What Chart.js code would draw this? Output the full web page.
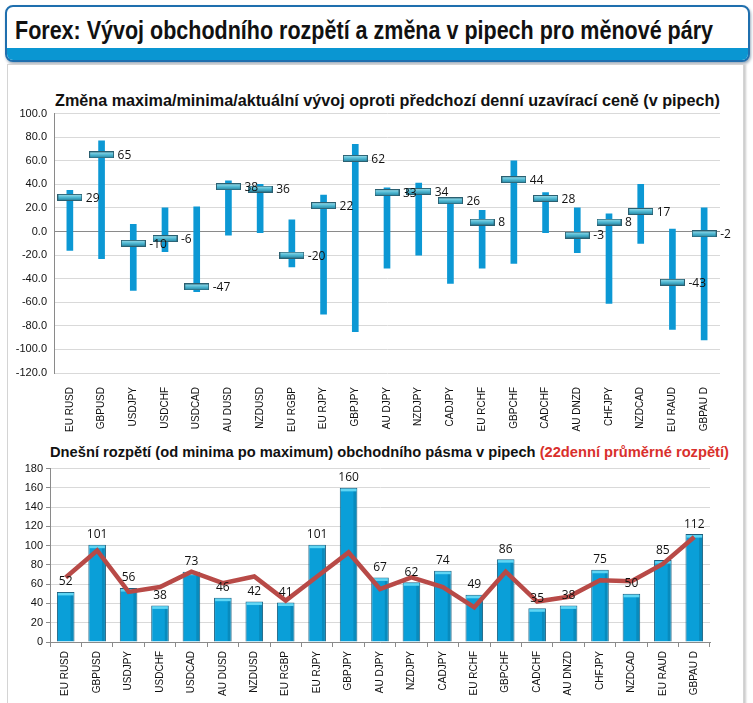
<!DOCTYPE html>
<html>
<head>
<meta charset="utf-8">
<script src="https://cdn.jsdelivr.net/npm/chart.js@4.4.0/dist/chart.umd.min.js"></script>
<style>
  body { margin: 0; background: #fff; width: 753px; height: 703px; overflow: hidden; position: relative; font-family: "Liberation Sans", Arial, sans-serif; }
  #hlavicka { position: absolute; left: 5px; top: 5px; width: 741px; height: 53px; border: 2px solid #1f6fae; border-radius: 8px; overflow: hidden; background: #fff; box-shadow: 1px 2px 3px #9ab; }
  #hlavicka .text { position: absolute; left: 8px; top: 8px; font-weight: bold; font-size: 26px; color: #111; white-space: nowrap; transform-origin: 0 0; }
  #hlavicka .pas { position: absolute; left: 0; right: 0; bottom: 0; height: 12px; background: #0a96d2; }
  #panel { position: absolute; left: 7px; top: 64px; width: 735px; height: 650px; border: 1px solid #d4d4d4; box-shadow: 2px 0 2px #ccc; background: #fff; }
  .nadpis { position: absolute; font-weight: bold; color: #111; white-space: nowrap; }
  .cerv { color: #d9302c; }
  canvas { position: absolute; }
</style>
</head>
<body>
<div id="hlavicka"><div class="text" id="hlText">Forex: Vývoj obchodního rozpětí a změna v pipech pro měnové páry</div><div class="pas"></div></div>
<div id="panel"></div>
<div class="nadpis" style="left:55px; top:91px; font-size:16.2px;">Změna maxima/minima/aktuální vývoj oproti předchozí denní uzavírací ceně (v pipech)</div>
<div class="nadpis" style="left:50px; top:444px; font-size:14.7px;">Dnešní rozpětí (od minima po maximum) obchodního pásma v pipech <span class="cerv">(22denní průměrné rozpětí)</span></div>
<div style="position:absolute; left:8px; top:100px; width:734px; height:336px;"><canvas id="grafHore"></canvas></div>
<div style="position:absolute; left:8px; top:459px; width:734px; height:239px;"><canvas id="grafDole"></canvas></div>
<script>
// menove pary
var pary = ["EURUSD", "GBPUSD", "USDJPY", "USDCHF", "USDCAD", "AUDUSD", "NZDUSD", "EURGBP", "EURJPY", "GBPJPY", "AUDJPY",
  "NZDJPY", "CADJPY", "EURCHF", "GBPCHF", "CADCHF", "AUDNZD", "CHFJPY", "NZDCAD", "EURAUD", "GBPAUD"];
// popisky osy x (jak jsou v obrazku)
var popisky = ["EU RUSD", "GBPUSD", "USDJPY", "USDCHF", "USDCAD", "AU DUSD", "NZDUSD", "EU RGBP", "EU RJPY", "GBPJPY", "AU DJPY",
  "NZDJPY", "CADJPY", "EU RCHF", "GBPCHF", "CADCHF", "AU DNZD", "CHFJPY", "NZDCAD", "EU RAUD", "GBPAU D"];

// horni graf - maximum, minimum a aktualni zmena (pipy)
var maxima = [35, 77, 6, 20, 21, 43, 40, 10, 31, 74, 37, 41, 29, 18, 60, 33, 20, 15, 40, 2, 20];
var minima = [-16, -23, -50, -17, -51, -3, -1, -30, -70, -85, -31, -20, -44, -31, -27, -1, -18, -61, -10, -83, -92];
var aktualni = [29, 65, -10, -6, -47, 38, 36, -20, 22, 62, 33, 34, 26, 8, 44, 28, -3, 8, 17, -43, -2];
var osaHoreTicks = [-120, -100, -80, -60, -40, -20, 0, 20, 40, 60, 80, 100];

// dolni graf - dnesni rozpeti a 22denni prumer
var rozpeti = [52, 101, 56, 38, 73, 46, 42, 41, 101, 160, 67, 62, 74, 49, 86, 35, 38, 75, 50, 85, 112];
var prumer = [67, 95, 52, 57, 73, 61, 68, 43, 68, 93, 55, 67, 57, 36, 73, 42, 47, 64, 63, 81, 109];
var osaDoleTicks = [0, 20, 40, 60, 80, 100, 120, 140, 160, 180];

var pismo = "'Liberation Sans', Arial, sans-serif";
var pismoCisla = "'Open Sans', 'DejaVu Sans', sans-serif";

// nadpis stlacit na sirku jako v originale
var hl = document.getElementById("hlText");
var sirka = hl.getBoundingClientRect().width;
hl.style.transform = "scaleX(" + (698 / sirka) + ")";

// znacka pro aktualni hodnotu
function udelejZnacku() {
  var c = document.createElement("canvas");
  c.width = 25;
  c.height = 7;
  var g = c.getContext("2d");
  var grad = g.createLinearGradient(0, 0, 0, 7);
  grad.addColorStop(0, "#a9e3ef");
  grad.addColorStop(0.5, "#4fb8d2");
  grad.addColorStop(1, "#1f7d9a");
  g.fillStyle = grad;
  g.fillRect(0.5, 0.5, 24, 6);
  g.strokeStyle = "#2b5f70";
  g.lineWidth = 1;
  g.strokeRect(0.5, 0.5, 24, 6);
  return c;
}

var rozsahy = [];
for (var i = 0; i < pary.length; i++) {
  rozsahy.push([minima[i], maxima[i]]);
}

// popisky hodnot
var popiskyPlugin = {
  id: "popiskyHodnot",
  afterDatasetsDraw: function(chart, args, opts) {
    var ctx = chart.ctx;
    var idx = opts.dataset;
    var meta = chart.getDatasetMeta(idx);
    var data = chart.data.datasets[idx].data;
    ctx.save();
    ctx.font = "12px " + pismoCisla;
    ctx.fillStyle = "#111";
    meta.data.forEach(function(el, j) {
      if (opts.vpravo) {
        ctx.textAlign = "left";
        ctx.textBaseline = "middle";
        ctx.fillText(data[j], el.x + 16, el.y + 1);
      } else {
        ctx.textAlign = "center";
        ctx.textBaseline = "bottom";
        ctx.fillText(data[j], el.x, el.y - 4);
      }
    });
    ctx.restore();
  }
};

// svetly horni okraj sloupcu (3D vzhled)
var vickoPlugin = {
  id: "vicko",
  afterDatasetDraw: function(chart, args) {
    if (args.index !== 0) return;
    var ctx = chart.ctx;
    ctx.save();
    args.meta.data.forEach(function(el) {
      var w = el.width;
      ctx.fillStyle = "#5fd6f4";
      ctx.fillRect(el.x - w / 2 + 1, el.y + 1, w - 2, 2.5);
      ctx.fillStyle = "rgba(0,0,0,0.12)";
      ctx.fillRect(el.x + w / 2 - 4, el.y + 3.5, 3, el.base - el.y - 4);
    });
    ctx.restore();
  }
};

var ctx1 = document.getElementById("grafHore").getContext("2d");
var grafHore = new Chart(ctx1, {
  type: "bar",
  data: {
    labels: popisky,
    datasets: [
      {
        type: "line",
        data: aktualni,
        showLine: false,
        pointStyle: udelejZnacku(),
        order: 0
      },
      {
        type: "bar",
        data: rozsahy,
        backgroundColor: "#0c98d4",
        barThickness: 6,
        borderSkipped: false,
        order: 1
      }
    ]
  },
  options: {
    responsive: true,
    maintainAspectRatio: false,
    animation: false,
    layout: { padding: { left: 0, right: 22, top: 4, bottom: 0 } },
    plugins: {
      legend: { display: false },
      tooltip: { enabled: false },
      popiskyHodnot: { dataset: 0, vpravo: true }
    },
    scales: {
      x: {
        offset: true,
        grid: { display: false },
        border: { display: false },
        ticks: { minRotation: 90, maxRotation: 90, autoSkip: false, color: "#111", font: { family: pismo, size: 10 }, padding: 6 },
        afterFit: function(scale) { scale.height = 63; }
      },
      y: {
        min: -120,
        max: 100,
        afterBuildTicks: function(scale) {
          scale.ticks = osaHoreTicks.map(function(v) { return { value: v }; });
        },
        grid: {
          color: function(c) { return c.tick.value === 0 ? "#8a8a8a" : "#d9d9d9"; },
          drawTicks: false
        },
        border: { display: true, color: "#8a8a8a" },
        ticks: {
          color: "#111",
          font: { family: pismo, size: 11 },
          padding: 7,
          callback: function(v) { return v.toFixed(1); }
        },
        afterFit: function(scale) { scale.width = 46; }
      }
    }
  },
  plugins: [popiskyPlugin]
});

var ctx2 = document.getElementById("grafDole").getContext("2d");
var grafDole = new Chart(ctx2, {
  type: "bar",
  data: {
    labels: popisky,
    datasets: [
      {
        type: "bar",
        data: rozpeti,
        backgroundColor: "#0a9fd8",
        borderColor: "#1c5f7e",
        borderWidth: 1,
        borderSkipped: "bottom",
        barPercentage: 0.56,
        categoryPercentage: 1,
        order: 1
      },
      {
        type: "line",
        data: prumer,
        borderColor: "#b84a47",
        borderWidth: 4.5,
        pointRadius: 0,
        tension: 0,
        order: 0
      }
    ]
  },
  options: {
    responsive: true,
    maintainAspectRatio: false,
    animation: false,
    layout: { padding: { left: 0, right: 32, top: 6, bottom: 0 } },
    plugins: {
      legend: { display: false },
      tooltip: { enabled: false },
      popiskyHodnot: { dataset: 0, vpravo: false }
    },
    scales: {
      x: {
        offset: true,
        grid: { offset: true, drawOnChartArea: false, drawTicks: true, tickLength: 5, color: "#8a8a8a" },
        border: { display: true, color: "#8a8a8a" },
        ticks: { minRotation: 90, maxRotation: 90, autoSkip: false, color: "#111", font: { family: pismo, size: 10 }, padding: 4 },
        afterFit: function(scale) { scale.height = 56; }
      },
      y: {
        min: 0,
        max: 180,
        afterBuildTicks: function(scale) {
          scale.ticks = osaDoleTicks.map(function(v) { return { value: v }; });
        },
        grid: { color: "#d9d9d9", tickLength: 4, tickColor: "#8a8a8a" },
        border: { display: true, color: "#8a8a8a" },
        ticks: { color: "#111", font: { family: pismo, size: 11 }, padding: 3 },
        afterFit: function(scale) { scale.width = 42; }
      }
    }
  },
  plugins: [popiskyPlugin, vickoPlugin]
});
</script>
</body>
</html>
